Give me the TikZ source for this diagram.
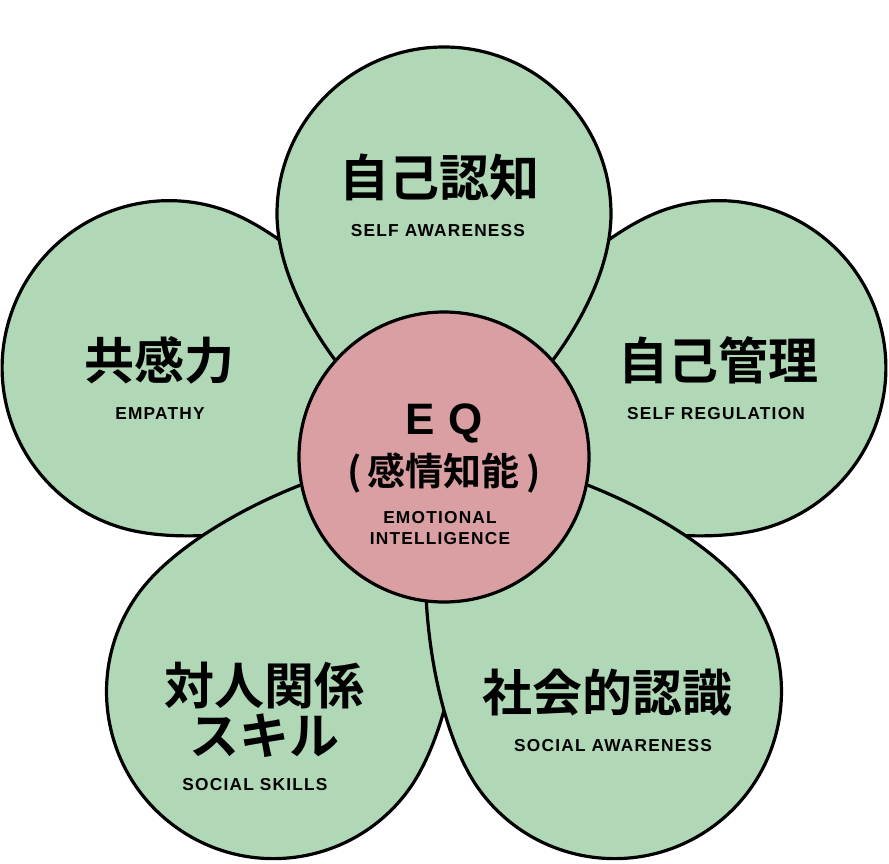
\documentclass[tikz,border=0pt]{standalone}
\usepackage{fontspec}
\setmainfont{Liberation Sans}
\newfontfamily\jp{Noto Sans CJK JP}[BoldFont={* Bold}]
\newfontfamily\en{Liberation Sans}[LetterSpace=7]
\definecolor{leaf}{HTML}{B1D8B6}
\definecolor{core}{HTML}{DA9FA2}
\begin{document}
\begin{tikzpicture}[x=1pt,y=1pt,
  petal/.style={fill=leaf,draw=black,line width=3.2pt,line join=round},
  jlab/.style={font=\jp\bfseries\fontsize{50}{56}\selectfont},
  elab/.style={font=\en\bfseries\fontsize{17.3}{21}\selectfont}]
\useasboundingbox (-444,-406) rectangle (445,457);
\newcommand\mypetal[3]{% angle, D, R
 \begin{scope}[rotate=#1-90]
 \draw[petal] (0,0) .. controls (-0.45*#3,0.15*#2) and (-#3,#2-0.55*#3) .. (-#3,#2)
   arc[start angle=180,end angle=0,radius=#3]
   .. controls (#3,#2-0.55*#3) and (0.45*#3,0.15*#2) .. (0,0) -- cycle;
 \end{scope}}
\mypetal{18}{289}{167}
\mypetal{162}{289}{167}
\mypetal{-126}{290}{167}
\mypetal{-54}{290}{167}
\mypetal{90}{243}{167}
\node[circle,minimum size=290,fill=core,draw=black,line width=3.2pt] (c) at (0,0) {};
\node[jlab] (t1) at (-4,280) {自己認知};
\node[elab] (e1) at (-6,226) {SELF AWARENESS};
\node[jlab] (t2) at (274,97) {自己管理};
\node[elab] (e2) at (272,43) {SELF REGULATION};
\node[jlab] (t3) at (-284,97) {共感力};
\node[elab] (e3) at (-284,43) {EMPATHY};
\node[jlab,align=center] (t4) at (-179,-253) {対人関係\\[-6pt]スキル};
\node[elab] (e4) at (-189,-328) {SOCIAL SKILLS};
\node[jlab] (t5) at (164,-236) {社会的認識};
\node[elab] (e5) at (169,-289) {SOCIAL AWARENESS};
\node[font=\en\bfseries\fontsize{44}{50}\selectfont] (eq) at (0,34) {E\hspace{14pt}Q};
\node[font=\jp\bfseries\fontsize{38}{42}\selectfont] (eqj) at (0,-16) {(\,感情知能\,)};
\node[elab,align=center] (eqe) at (-4,-71) {EMOTIONAL\\[0pt]INTELLIGENCE};
\end{tikzpicture}
\end{document}
